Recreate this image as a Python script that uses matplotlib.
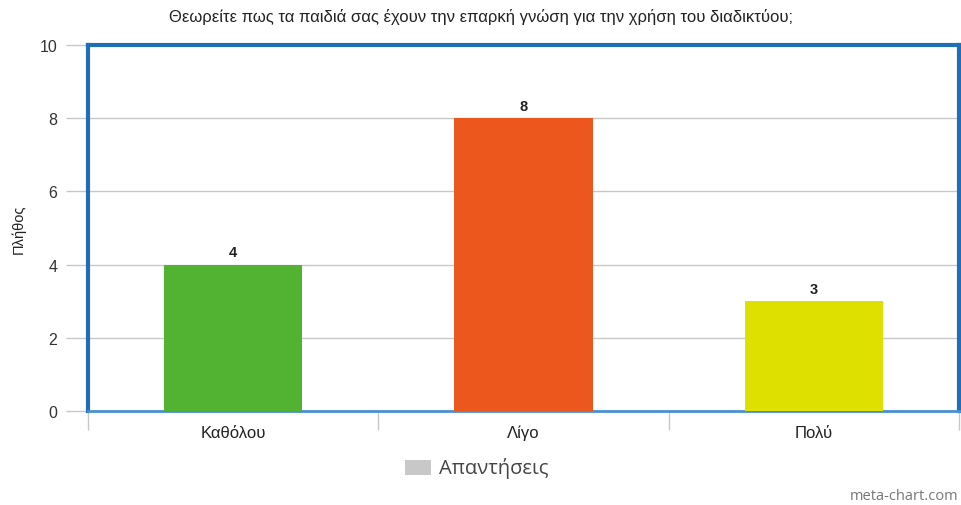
import matplotlib.pyplot as plt
from matplotlib.patches import Rectangle

# データ
categories = ["Καθόλου", "Λίγο", "Πολύ"]
values = [4, 8, 3]
bar_colors = ["#52b332", "#eb571c", "#dee000"]
yticks = [0, 2, 4, 6, 8, 10]

plt.rcParams['font.family'] = ['Liberation Sans', 'DejaVu Sans']

fig = plt.figure(figsize=(9.62, 5.06), dpi=100)
ax = fig.add_axes([88 / 962, 1 - 412 / 506, (959 - 88) / 962, (412 - 46) / 506])

x = list(range(len(categories)))
ax.bar(x, values, width=0.476, color=bar_colors, zorder=3)
for xi, v in zip(x, values):
    ax.text(xi, v + 0.15, str(v), ha="center", va="bottom",
            fontsize=10.5, fontweight="bold", color="#222222")

ax.set_xlim(-0.5, len(categories) - 0.5)
ax.set_ylim(0, 10)
ax.set_yticks(yticks)
ax.set_yticklabels([str(t) for t in yticks], fontsize=11.5, color="#333333")
ax.yaxis.grid(True, color="#c8c8c8", linewidth=1, zorder=0)

# x軸: カテゴリ境界に目盛り
ax.set_xticks([-0.5, 0.5, 1.5, 2.5], minor=False)
ax.set_xticklabels([])
ax.set_xticks(x, minor=True)
ax.set_xticklabels(categories, minor=True, fontsize=12, color="#222222")
ax.tick_params(axis="x", which="major", length=14, color="#c8c8c8", width=1)
ax.tick_params(axis="x", which="minor", length=0, pad=10)
ax.tick_params(axis="y", length=16, color="#c8c8c8", width=1, pad=6)

for side in ["left", "top", "right"]:
    ax.spines[side].set_color("#1e6fb8")
    ax.spines[side].set_linewidth(3)
ax.spines["bottom"].set_color("#4a90d0")
ax.spines["bottom"].set_linewidth(2)

ax.set_ylabel("Πλήθος", fontsize=10.5, color="#222222", labelpad=10)

fig.text(0.5, 1 - 17 / 506, "Θεωρείτε πως τα παιδιά σας έχουν την επαρκή γνώση για την χρήση του διαδικτύου;",
         ha="center", va="center", fontsize=12, color="#222222")

# 凡例
fig.patches.append(Rectangle((405 / 962, 1 - 476 / 506), 26 / 962, 15 / 506,
                             transform=fig.transFigure, facecolor="#c8c8c8", edgecolor="none"))
fig.text(439 / 962, 1 - 469 / 506, "Απαντήσεις", ha="left", va="center",
         fontsize=14.5, color="#444444", family=["Open Sans", "DejaVu Sans"])

fig.text(958 / 962, 1 - 497 / 506, "meta-chart.com", ha="right", va="center",
         fontsize=10.5, color="#777777", family=["Open Sans", "DejaVu Sans"])

fig.savefig("out.png", dpi=100)
